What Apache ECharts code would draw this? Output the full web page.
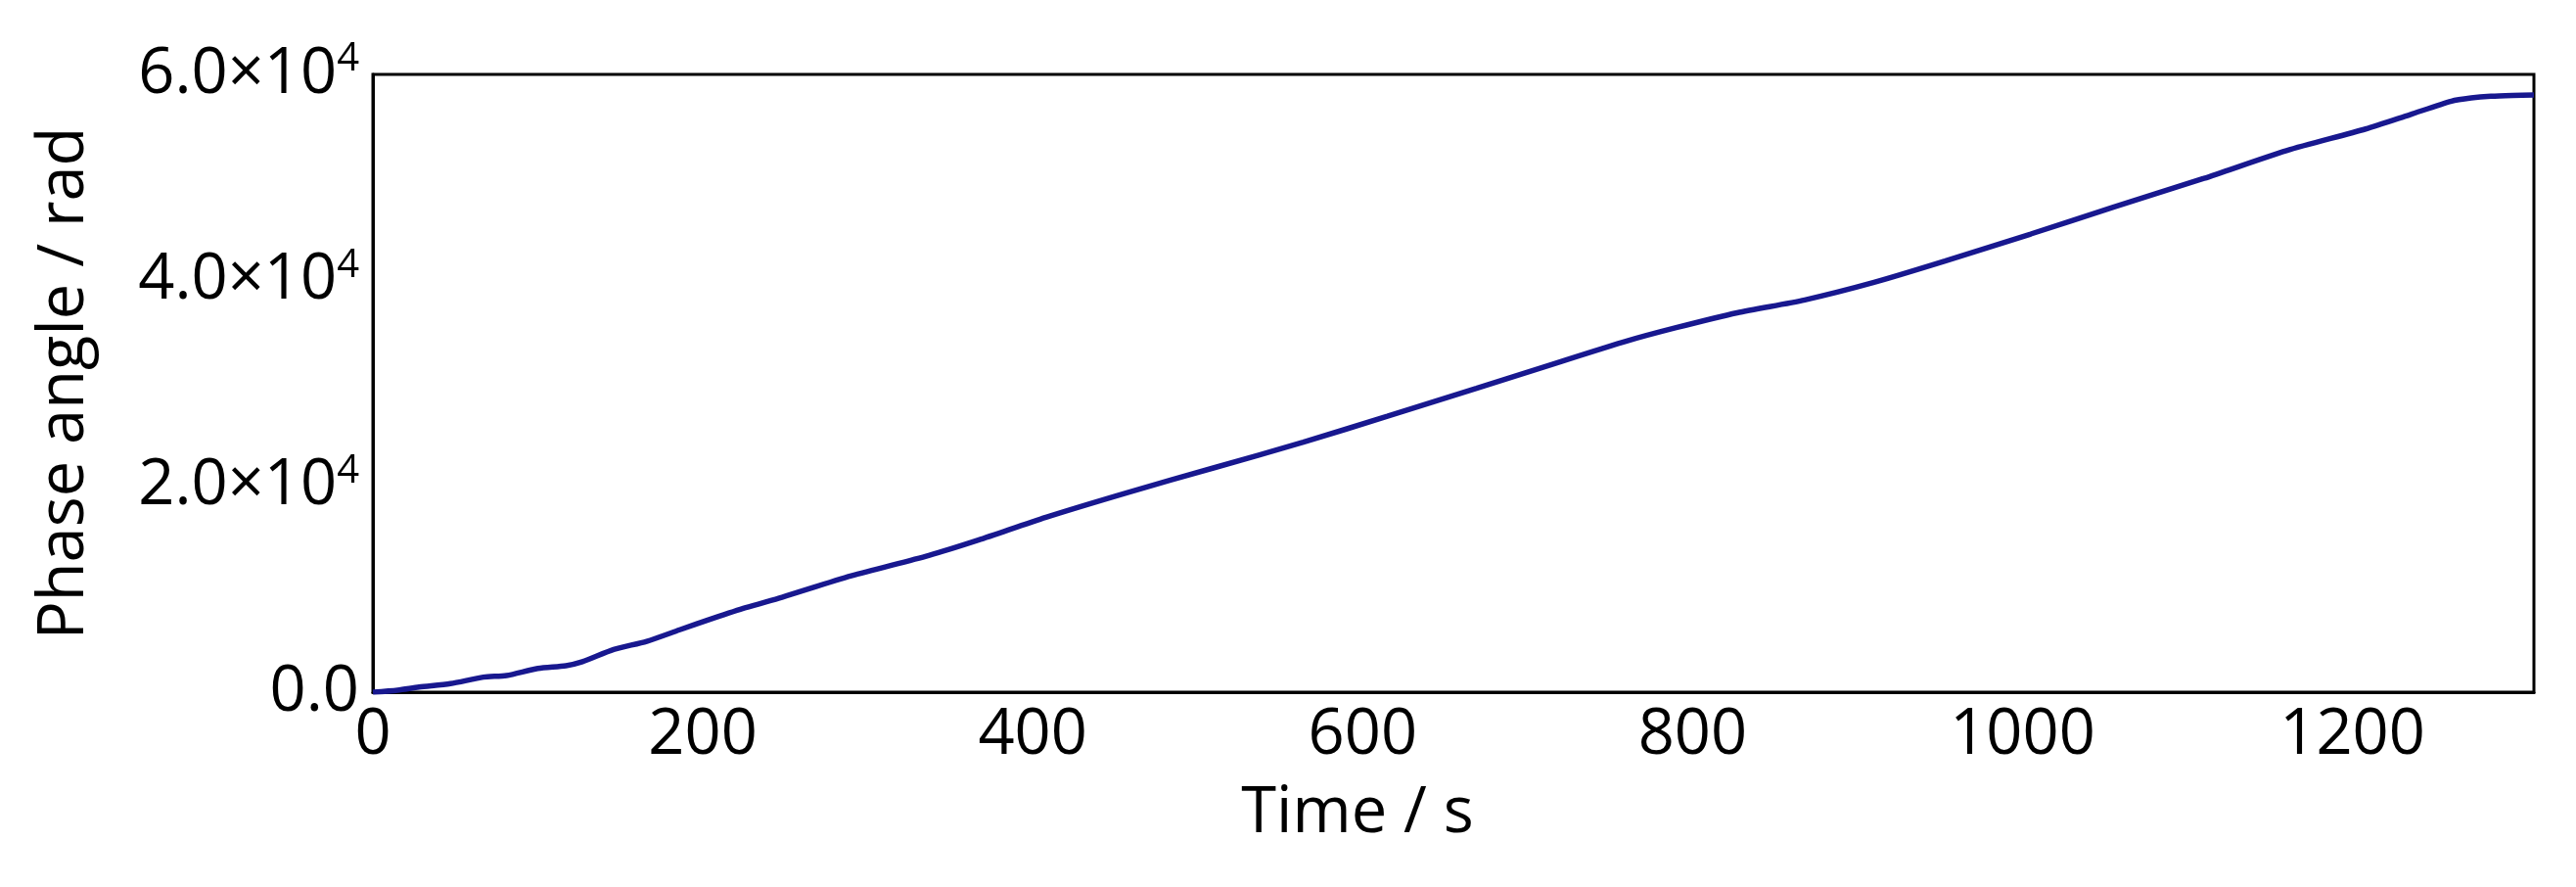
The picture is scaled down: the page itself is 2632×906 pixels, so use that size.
<!DOCTYPE html>
<html>
<head>
<meta charset="utf-8">
<title>Phase angle vs time</title>
<script src="https://cdn.jsdelivr.net/npm/echarts@6/dist/echarts.min.js"></script>
<style>
  html, body { margin: 0; padding: 0; background: #fff; }
  #container { width: 2632px; height: 906px; }
</style>
</head>
<body>
<div id="container"></div>
<script>
// data
var timeS = [0, 15, 28, 47, 67, 81, 100, 117, 127, 146, 166, 186, 206, 226, 248, 290,
    337, 367, 408, 457, 510, 564, 615, 669, 715, 760, 790, 827, 868, 910, 953,
    1005, 1055, 1110, 1160, 1208, 1235, 1260, 1272, 1284, 1297, 1310];
var phaseRad = [0, 200, 500, 830, 1460, 1620, 2310, 2570, 2950, 4150, 4940, 6060, 7160, 8210, 9220, 11300,
    13280, 14770, 16990, 19370, 21800, 24280, 26800, 29510, 31850, 34100, 35400, 36850, 38100, 39800, 41870,
    44500, 47100, 49900, 52600, 54700, 56100, 57400, 57710, 57880, 57960, 58000];

var xTicks = {min: 0, max: 1310, interval: 200};
var yTicks = {min: 0, max: 60000, interval: 20000};

var fontFamily = '"Open Sans", "Noto Sans", sans-serif';
var fontSize = 65;

function xLabel(v) {
    // only the round ticks, no label at the axis end
    return v % xTicks.interval === 0 ? String(v) : '';
}

function yLabel(v) {
    if (v === 0) {
        return '{m|0.0}';
    }
    return '{m|' + (v / 1e4).toFixed(1) + '×10}{s|4}';
}

var dom = document.getElementById('container');
var myChart = echarts.init(dom, null, {renderer: 'canvas'});

var seriesData = timeS.map(function (t, i) {
    return [t, phaseRad[i]];
});

var option = {
    animation: false,
    backgroundColor: '#fff',
    grid: {
        left: 381,
        right: 43,
        top: 76,
        bottom: 199,
        show: true,
        borderColor: '#000',
        borderWidth: 3,
        backgroundColor: 'transparent'
    },
    xAxis: {
        type: 'value',
        min: xTicks.min,
        max: xTicks.max,
        interval: xTicks.interval,
        name: 'Time / s',
        nameLocation: 'middle',
        nameGap: 92,
        nameTextStyle: {
            fontFamily: fontFamily,
            fontSize: fontSize,
            color: '#000',
            padding: [0, 196, 0, 0]
        },
        axisLine: {show: true, lineStyle: {color: '#000', width: 3}},
        axisTick: {show: false},
        splitLine: {show: false},
        axisLabel: {
            margin: 12,
            formatter: xLabel,
            fontFamily: fontFamily,
            fontSize: fontSize,
            color: '#000'
        }
    },
    yAxis: {
        type: 'value',
        min: yTicks.min,
        max: yTicks.max,
        interval: yTicks.interval,
        name: 'Phase angle / rad',
        nameLocation: 'middle',
        nameGap: 282,
        nameTextStyle: {
            fontFamily: fontFamily,
            fontSize: fontSize,
            color: '#000'
        },
        axisLine: {show: true, lineStyle: {color: '#000', width: 3}},
        axisTick: {show: false},
        splitLine: {show: false},
        axisLabel: {
            margin: 14,
            formatter: yLabel,
            rich: {
                m: {
                    fontFamily: fontFamily,
                    fontSize: fontSize,
                    color: '#000',
                    lineHeight: 70
                },
                s: {
                    fontFamily: fontFamily,
                    fontSize: 40,
                    color: '#000',
                    lineHeight: 40,
                    verticalAlign: 'top'
                }
            }
        }
    },
    series: [
        {
            type: 'line',
            data: seriesData,
            showSymbol: false,
            smooth: 0.25,
            lineStyle: {color: '#18188f', width: 5.5},
            clip: true
        }
    ]
};

myChart.setOption(option);
window.addEventListener('resize', myChart.resize);
</script>
</body>
</html>
